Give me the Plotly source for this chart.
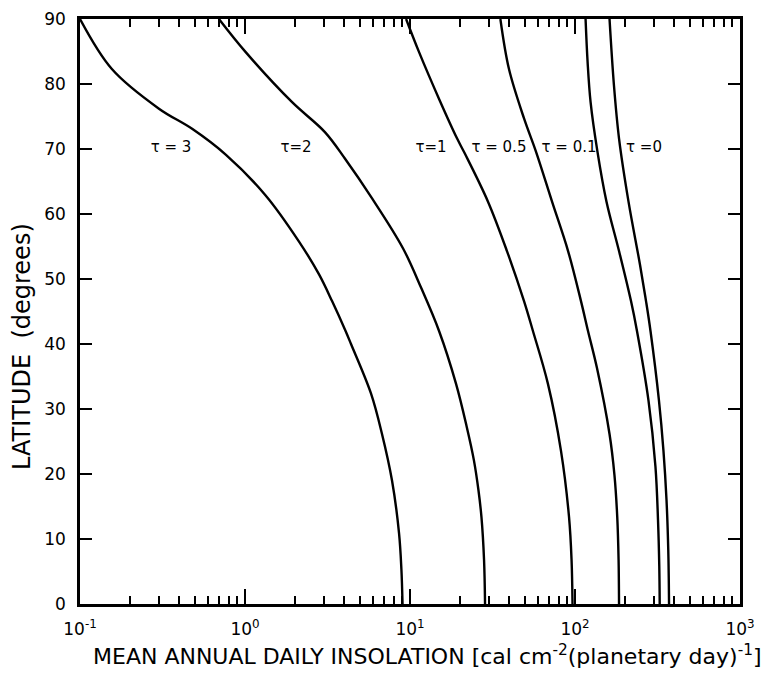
import plotly.graph_objects as go

# Curves: latitude (deg) vs mean annual daily insolation (cal cm^-2 per planetary day)
lat_tau3 = [90, 82.3, 76.2, 73.1, 69.1, 62.9, 55.8, 50.7, 46.6, 42.0, 40.0, 32.4, 26.2, 19.0, 10.9, 5.3, 0]
ins_tau3 = [0.1, 0.156, 0.301, 0.478, 0.767, 1.33, 2.12, 2.81, 3.37, 4.07, 4.39, 5.80, 6.76, 7.78, 8.58, 8.87, 9.01]

lat_tau2 = [90, 84.9, 77.2, 72.6, 68.5, 62.4, 54.7, 48.6, 42.0, 33.9, 27.2, 22.1, 17.5, 13.4, 6.8, 0]
ins_tau2 = [0.695, 1.01, 1.93, 3.05, 4.04, 5.89, 9.08, 11.7, 15.0, 19.0, 22.1, 24.4, 26.0, 27.1, 28.1, 28.5]

lat_tau1 = [90, 84.9, 77.7, 71.6, 69.3, 61.9, 54.3, 46.6, 42.0, 33.9, 23.6, 13.4, 6.8, 0]
ins_tau1 = [9.47, 11.35, 15.0, 19.3, 21.5, 29.7, 38.7, 49.1, 55.6, 68.5, 82.2, 92.0, 95.3, 96.6]

lat_tau05 = [90, 82.3, 74.7, 69.6, 61.9, 54.3, 46.6, 42.0, 36.3, 26.2, 19.8, 13.4, 6.8, 0]
ins_tau05 = [35.3, 39.8, 49.1, 58.0, 72.6, 90.8, 108.7, 119.9, 135.9, 161.8, 173.5, 180.3, 183.7, 184.9]

lat_tau01 = [90, 83.4, 77.2, 69.6, 61.9, 54.3, 46.6, 42.0, 31.3, 21.1, 12.9, 5.8, 0]
ins_tau01 = [115.9, 119.2, 124.3, 136.8, 155.2, 184.9, 218.5, 237.5, 278.9, 307.4, 318.5, 324.2, 326.1]

lat_tau0 = [90, 79.8, 71.6, 61.9, 52.2, 46.6, 42.0, 31.3, 23.6, 16.0, 8.3, 0]
ins_tau0 = [161.9, 172.2, 184.9, 211.0, 247.7, 269.4, 286.8, 322.8, 343.6, 358.6, 367.5, 371.5]

curve_lats = [lat_tau3, lat_tau2, lat_tau1, lat_tau05, lat_tau01, lat_tau0]
curve_ins = [ins_tau3, ins_tau2, ins_tau1, ins_tau05, ins_tau01, ins_tau0]

label_texts = ["τ = 3", "τ=2", "τ=1", "τ = 0.5", "τ = 0.1", "τ =0"]
label_x = [0.356, 2.04, 13.4, 34.6, 92, 262]
label_y = [70.1, 70.1, 70.1, 70.1, 70.1, 70.1]

x_tickvals = [0.1, 1, 10, 100, 1000]
x_ticktext = ["10<sup>-1</sup>", "10<sup>0</sup>", "10<sup>1</sup>", "10<sup>2</sup>", "10<sup>3</sup>"]
x_minor_vals = [m * d for d in [0.1, 1, 10, 100] for m in range(2, 10)]
y_tickvals = [0, 10, 20, 30, 40, 50, 60, 70, 80, 90]

x_title = "MEAN ANNUAL DAILY INSOLATION [cal cm<sup>-2</sup>(planetary day)<sup>-1</sup>]"
y_title = "LATITUDE  (degrees)"

FONT = "DejaVu Sans"

fig = go.Figure()
for lats, ins in zip(curve_lats, curve_ins):
    fig.add_trace(go.Scatter(x=ins, y=lats, mode="lines",
                             line=dict(color="black", width=2.4, shape="spline", smoothing=1.0),
                             showlegend=False, hoverinfo="skip"))

fig.add_trace(go.Scatter(x=label_x, y=label_y, mode="text", text=label_texts,
                         textfont=dict(family=FONT, size=15, color="black"),
                         showlegend=False, hoverinfo="skip"))

fig.update_layout(
    width=763, height=669,
    margin=dict(l=72, r=31, t=11, b=73),
    paper_bgcolor="white", plot_bgcolor="white",
    font=dict(family=FONT, size=17, color="black"),
    annotations=[
        dict(text=x_title, xref="paper", yref="paper", x=0.526, y=-0.0875,
             showarrow=False, xanchor="center", yanchor="middle",
             font=dict(family=FONT, size=22, color="black")),
        dict(text=y_title, xref="paper", yref="paper", x=-0.088, y=0.441,
             showarrow=False, xanchor="center", yanchor="middle", textangle=-90,
             font=dict(family=FONT, size=24, color="black")),
    ],
)
fig.update_xaxes(
    type="log", range=[-1, 3], automargin=False,
    tickvals=x_tickvals, ticktext=x_ticktext,
    ticks="inside", ticklen=15, tickwidth=2, tickcolor="black",
    minor=dict(tickvals=x_minor_vals, ticks="inside", ticklen=8, tickwidth=1.6,
               tickcolor="black", showgrid=False),
    showline=True, linewidth=2.5, linecolor="black", mirror="ticks",
    showgrid=False, zeroline=False, ticklabelstandoff=8, ticklabeloverflow="allow",
    tickfont=dict(family=FONT, size=17),
)
fig.update_yaxes(
    range=[0, 90], tickvals=y_tickvals, automargin=False,
    ticks="inside", ticklen=12, tickwidth=2, tickcolor="black",
    showline=True, linewidth=2.5, linecolor="black", mirror="ticks",
    showgrid=False, zeroline=False, ticklabelstandoff=8, ticklabeloverflow="allow",
    tickfont=dict(family=FONT, size=17),
)

fig.write_html("out.html")
